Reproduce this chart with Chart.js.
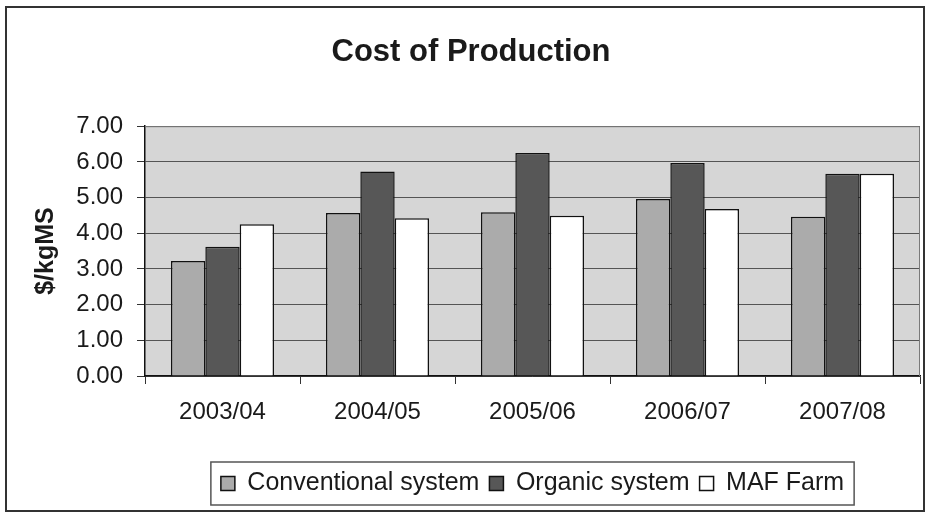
<!DOCTYPE html>
<html>
<head>
<meta charset="utf-8">
<script src="https://cdn.jsdelivr.net/npm/chart.js@4.4.0/dist/chart.umd.min.js"></script>
<style>
  html, body { margin: 0; padding: 0; background: #fff; }
  #wrap { width: 928px; height: 514px; position: relative; }
</style>
</head>
<body>
<div id="wrap"><canvas id="myChart" width="928" height="514"></canvas></div>
<script>
// data
var years = ['2003/04', '2004/05', '2005/06', '2006/07', '2007/08'];
var conventional = [3.22, 4.57, 4.59, 4.96, 4.46];
var organic = [3.62, 5.73, 6.25, 5.97, 5.67];
var mafFarm = [4.25, 4.42, 4.49, 4.68, 5.67];
var yTicks = [0, 1, 2, 3, 4, 5, 6, 7];

var FONT = "'Liberation Sans', Arial, sans-serif";

// grey plot area, plot frame, outer frame and legend frame
var framePlugin = {
  id: 'frames',
  afterLayout: function (chart) {
    // legend sits centred under the plot area, not the whole canvas
    var lg = chart.legend;
    if (lg) {
      lg.left = chart.chartArea.left;
      lg.right = chart.chartArea.right;
    }
    // title a little right of canvas centre, as in the original
    var tb = chart.titleBlock;
    if (tb) {
      tb.left += 11;
      tb.right += 11;
    }
  },
  beforeDraw: function (chart) {
    var ctx = chart.ctx, a = chart.chartArea;
    ctx.save();
    ctx.fillStyle = '#fff';
    ctx.fillRect(0, 0, chart.width, chart.height);
    ctx.fillStyle = '#d6d6d6';
    ctx.fillRect(a.left, a.top, a.right - a.left, a.bottom - a.top);
    ctx.restore();
  },
  afterDraw: function (chart) {
    var ctx = chart.ctx, a = chart.chartArea;
    ctx.save();
    // plot area top / right edge
    ctx.strokeStyle = '#7a7a7a';
    ctx.lineWidth = 1;
    ctx.beginPath();
    ctx.moveTo(a.left, a.top + 0.5);
    ctx.lineTo(a.right - 0.5, a.top + 0.5);
    ctx.lineTo(a.right - 0.5, a.bottom);
    ctx.stroke();
    // outer chart frame
    ctx.strokeStyle = '#333';
    ctx.lineWidth = 2;
    ctx.strokeRect(6, 7, 918, 504);
    // legend frame
    var lg = chart.legend;
    if (lg && lg.legendHitBoxes.length) {
      var hb = lg.legendHitBoxes;
      var l = hb[0].left - 10;
      var r = hb[hb.length - 1].left + hb[hb.length - 1].width + 10;
      ctx.strokeStyle = '#555';
      ctx.lineWidth = 1.5;
      ctx.strokeRect(l, 462, r - l, 43);
    }
    ctx.restore();
  }
};

var ctx = document.getElementById('myChart').getContext('2d');
var chart = new Chart(ctx, {
  type: 'bar',
  data: {
    labels: years,
    datasets: [{
        label: 'Conventional system',
        backgroundColor: '#ababab',
        borderColor: '#111',
        borderWidth: 1.5,
        data: conventional
      },
      {
        label: 'Organic system',
        backgroundColor: '#575757',
        borderColor: '#111',
        borderWidth: 1.5,
        data: organic
      },
      {
        label: 'MAF Farm',
        backgroundColor: '#ffffff',
        borderColor: '#111',
        borderWidth: 1.5,
        data: mafFarm
      }
    ]
  },
  options: {
    responsive: false,
    animation: false,
    categoryPercentage: 0.665,
    barPercentage: 1.0,
    layout: {
      padding: { left: 0, right: 8, top: 0, bottom: 8 }
    },
    plugins: {
      title: {
        display: true,
        text: 'Cost of Production',
        color: '#1a1a1a',
        font: { family: FONT, size: 31, weight: 'bold' },
        padding: { top: 34, bottom: 55 }
      },
      legend: {
        position: 'bottom',
        labels: {
          color: '#1a1a1a',
          font: { family: FONT, size: 25 },
          boxWidth: 14,
          boxHeight: 14,
          padding: 10
        }
      },
      tooltip: { enabled: false }
    },
    scales: {
      x: {
        grid: {
          offset: true,
          drawOnChartArea: false,
          tickLength: 8,
          color: '#333'
        },
        border: { color: '#111', width: 1.5 },
        ticks: {
          color: '#1a1a1a',
          font: { family: FONT, size: 24 },
          padding: 14,
          maxRotation: 0
        },
        afterFit: function (scale) { scale.height = 85; }
      },
      y: {
        min: 0,
        max: 7,
        afterBuildTicks: function (scale) {
          scale.ticks = yTicks.map(function (v) { return { value: v }; });
        },
        grid: {
          color: '#555',
          lineWidth: 1,
          tickLength: 8,
          tickColor: '#333'
        },
        border: { color: '#111', width: 1.5 },
        ticks: {
          color: '#1a1a1a',
          font: { family: FONT, size: 24 },
          padding: 14,
          callback: function (v) { return Number(v).toFixed(2); }
        },
        title: {
          display: true,
          text: '$/kgMS',
          color: '#1a1a1a',
          font: { family: FONT, size: 25, weight: 'bold' },
          padding: { top: 31, bottom: 0 }
        },
        afterFit: function (scale) { scale.width = 145; }
      }
    }
  },
  plugins: [framePlugin]
});
</script>
</body>
</html>
